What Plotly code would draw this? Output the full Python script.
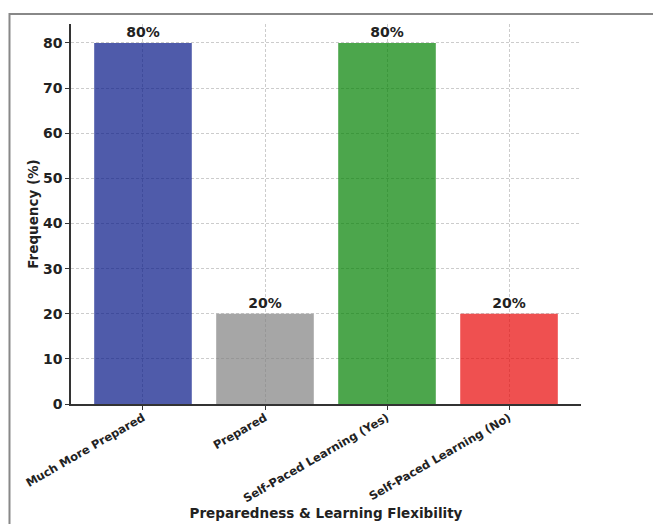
import plotly.graph_objects as go

categories = ["Much More Prepared", "Prepared", "Self-Paced Learning (Yes)", "Self-Paced Learning (No)"]
frequency = [80, 20, 80, 20]
bar_labels = ["80%", "20%", "80%", "20%"]
colors = ["rgb(4,21,134)", "rgb(128,128,128)", "rgb(0,128,0)", "rgb(232,5,5)"]
y_ticks = [0, 10, 20, 30, 40, 50, 60, 70, 80]

FONT = "DejaVu Sans"

fig = go.Figure()
fig.add_trace(go.Bar(
    x=list(range(len(categories))),
    y=frequency,
    width=0.8,
    marker=dict(color=colors, opacity=0.7, line=dict(width=0)),
    text=bar_labels,
    textposition="outside",
    textfont=dict(family=FONT, size=14, color="#222222", weight="bold"),
    cliponaxis=False,
))

fig.update_layout(
    width=653, height=524,
    margin=dict(l=71, r=72, t=24, b=120),
    paper_bgcolor="white", plot_bgcolor="white",
    showlegend=False,
    uniformtext=dict(mode=False),
    font=dict(family=FONT, color="#222222"),
    shapes=[dict(type="rect", xref="paper", yref="paper",
                 x0=-0.1206, x1=1.3, y0=-0.6, y1=1.026,
                 line=dict(color="#888888", width=2), fillcolor="rgba(0,0,0,0)", layer="below")],
)

fig.update_xaxes(
    range=[-0.59, 3.59],
    automargin=False,
    tickvals=list(range(len(categories))),
    ticktext=categories,
    tickangle=-30,
    tickfont=dict(family=FONT, size=11.5, color="#222222", weight="bold"),
    ticks="outside", ticklen=4, tickcolor="#333333",
    ticklabelstandoff=-3,
    showline=True, linecolor="#333333", linewidth=1.5,
    showgrid=True, gridcolor="#cccccc", griddash="3px,2px", gridwidth=1,
    zeroline=False,
    title=dict(text="Preparedness & Learning Flexibility",
               font=dict(family=FONT, size=13.5, color="#222222", weight="bold"),
               standoff=3),
)
fig.update_yaxes(
    range=[0, 84.2],
    automargin=False,
    tickvals=y_ticks,
    tickfont=dict(family=FONT, size=14, color="#222222", weight="bold"),
    ticks="outside", ticklen=4, tickcolor="#333333",
    showline=True, linecolor="#333333", linewidth=1.5,
    showgrid=True, gridcolor="#cccccc", griddash="3px,2px", gridwidth=1,
    zeroline=False,
    title=dict(text="Frequency (%)",
               font=dict(family=FONT, size=13.5, color="#222222", weight="bold"),
               standoff=1),
)

fig.write_html("out.html")
